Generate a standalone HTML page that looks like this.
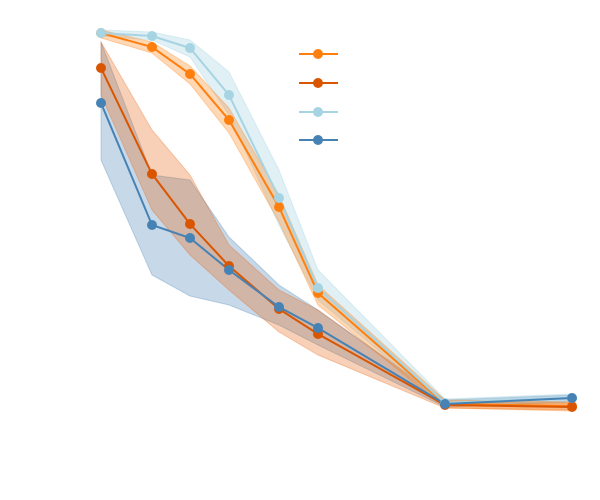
<!DOCTYPE html>
<html><head><meta charset="utf-8"><style>html,body{margin:0;padding:0;background:#fff}svg{display:block}</style></head>
<body>
<svg width="600" height="500" viewBox="0 0 600 500" xmlns="http://www.w3.org/2000/svg">
<!-- bands -->
<polygon fill="#4682b4" fill-opacity="0.3" stroke="#4682b4" stroke-opacity="0.3" points="101,42 152,175 190,180 229,237 279,285 318,310 445,400 572,395 572,402 445,407 318,345 279,325 229,305 190,296 152,275 101,160"/>
<polygon fill="#e8650f" fill-opacity="0.3" stroke="#e8650f" stroke-opacity="0.3" points="101,42 152,130 190,175 229,245 279,290 318,310 445,402 572,403 572,410 445,408 318,355 279,332 229,290 190,255 152,210 101,95"/>
<polygon fill="#a6d4e3" fill-opacity="0.35" stroke="#a6d4e3" stroke-opacity="0.35" points="101,30 152,32 190,40 229,72 279,170 318,270 445,399 572,394 572,401 445,406 318,300 279,225 229,115 190,57 152,40 101,36"/>
<polygon fill="#ff7f0e" fill-opacity="0.3" stroke="#ff7f0e" stroke-opacity="0.3" points="101,30 152,42 190,66 229,108 279,195 318,285 445,400 572,402 572,411 445,408 318,305 279,222 229,133 190,84 152,53 101,38"/>
<!-- lines -->
<g stroke-width="2" fill="none">
<polyline stroke="#ff7f0e" points="101,33 152,47 190,74 229,120 279,207 318,293 445,404 572,406"/>
<polyline stroke="#d95500" points="101,68 152,174 190,224 229,266 279,309 318,334 445,405 572,407"/>
<polyline stroke="#a6d4e3" points="101,33 152,36 190,48 229,95 279,198 318,288 445,403 572,398"/>
<polyline stroke="#4682b4" points="101,103 152,225 190,238 229,270 279,307 318,328 445,404 572,398"/>
</g>
<g fill="#ff7f0e"><circle cx="101" cy="33" r="5"/><circle cx="152" cy="47" r="5"/><circle cx="190" cy="74" r="5"/><circle cx="229" cy="120" r="5"/><circle cx="279" cy="207" r="5"/><circle cx="318" cy="293" r="5"/><circle cx="445" cy="404" r="5"/><circle cx="572" cy="406" r="5"/></g>
<g fill="#d95500"><circle cx="101" cy="68" r="5"/><circle cx="152" cy="174" r="5"/><circle cx="190" cy="224" r="5"/><circle cx="229" cy="266" r="5"/><circle cx="279" cy="309" r="5"/><circle cx="318" cy="334" r="5"/><circle cx="445" cy="405" r="5"/><circle cx="572" cy="407" r="5"/></g>
<g fill="#a6d4e3"><circle cx="101" cy="33" r="5"/><circle cx="152" cy="36" r="5"/><circle cx="190" cy="48" r="5"/><circle cx="229" cy="95" r="5"/><circle cx="279" cy="198" r="5"/><circle cx="318" cy="288" r="5"/><circle cx="445" cy="403" r="5"/><circle cx="572" cy="398" r="5"/></g>
<g fill="#4682b4"><circle cx="101" cy="103" r="5"/><circle cx="152" cy="225" r="5"/><circle cx="190" cy="238" r="5"/><circle cx="229" cy="270" r="5"/><circle cx="279" cy="307" r="5"/><circle cx="318" cy="328" r="5"/><circle cx="445" cy="404" r="5"/><circle cx="572" cy="398" r="5"/></g>
<!-- legend -->
<g stroke-width="2">
<line x1="299" y1="54" x2="338" y2="54" stroke="#ff7f0e"/><circle cx="318" cy="54" r="5" fill="#ff7f0e"/>
<line x1="299" y1="83" x2="338" y2="83" stroke="#d95500"/><circle cx="318" cy="83" r="5" fill="#d95500"/>
<line x1="299" y1="112" x2="338" y2="112" stroke="#a6d4e3"/><circle cx="318" cy="112" r="5" fill="#a6d4e3"/>
<line x1="299" y1="140" x2="338" y2="140" stroke="#4682b4"/><circle cx="318" cy="140" r="5" fill="#4682b4"/>
</g>
</svg>
</body></html>
